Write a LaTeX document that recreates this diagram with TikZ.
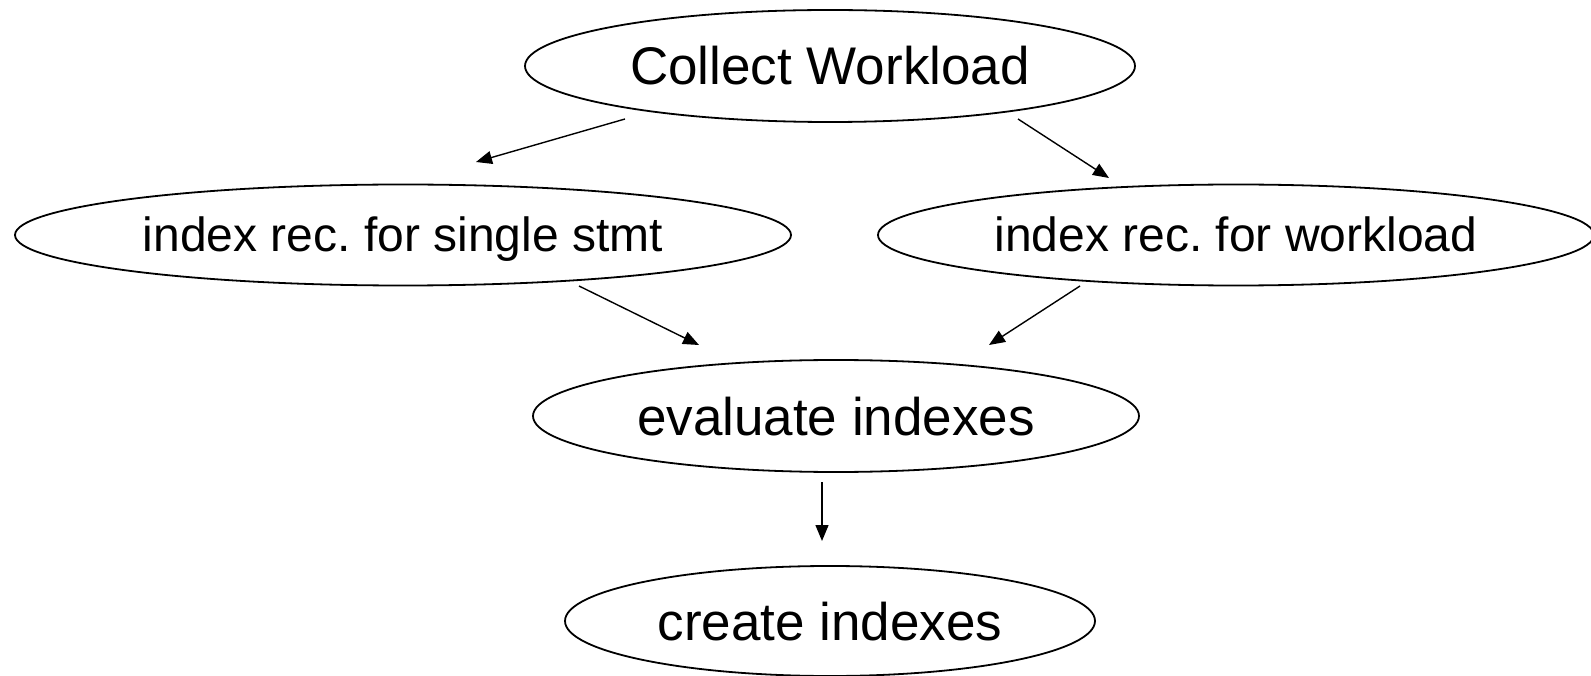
\documentclass[tikz,border=0pt]{standalone}
\usepackage{fontspec}
\setmainfont{Liberation Sans}
\usetikzlibrary{shapes.geometric,arrows.meta}
\newcommand\zwtext[1]{\makebox[0pt]{#1}}
\begin{document}
\frenchspacing
\begin{tikzpicture}[x=1pt,y=-1pt,
  oval/.style={ellipse,draw,line width=1.8pt,inner sep=0pt,text depth=0pt},
  big/.style={font=\fontsize{53}{60}\selectfont,text height=38pt},
  mid/.style={font=\fontsize{48}{55}\selectfont,text height=34pt},
  arr/.style={line width=1.4pt,-{Triangle[length=16pt,width=13pt]}}]
\useasboundingbox (0,0) rectangle (1591,676);
\node[oval,big,minimum width=610pt,minimum height=112pt] (collect) at (830,66) {\zwtext{Collect Workload}};
\node[oval,mid,minimum width=776pt,minimum height=101pt] (single) at (403,235) {\zwtext{index rec. for single stmt}};
\node[oval,mid,minimum width=716pt,minimum height=101pt] (work) at (1236,235) {\zwtext{index rec. for workload}};
\node[oval,big,minimum width=606pt,minimum height=112pt] (eval) at (836,416) {\zwtext{evaluate indexes}};
\node[oval,big,minimum width=530pt,minimum height=110pt] (create) at (830,621) {\zwtext{create indexes}};
\path (collect.center) ++(-205,53) coordinate (c1s);
\path (single.center) ++(73,-73) coordinate (c1e);
\path (collect.center) ++(188,53) coordinate (c2s);
\path (work.center) ++(-127,-57) coordinate (c2e);
\path (single.center) ++(176,51) coordinate (s1s);
\path (eval.center) ++(-137,-71) coordinate (s1e);
\path (work.center) ++(-156,51) coordinate (w1s);
\path (eval.center) ++(153,-71) coordinate (w1e);
\path (eval.center) ++(-14,66) coordinate (e1s);
\path (create.center) ++(-8,-80) coordinate (e1e);
\draw[arr] (c1s) -- (c1e);
\draw[arr] (c2s) -- (c2e);
\draw[arr] (s1s) -- (s1e);
\draw[arr] (w1s) -- (w1e);
\draw[arr] (e1s) -- (e1e);
\end{tikzpicture}
\end{document}
